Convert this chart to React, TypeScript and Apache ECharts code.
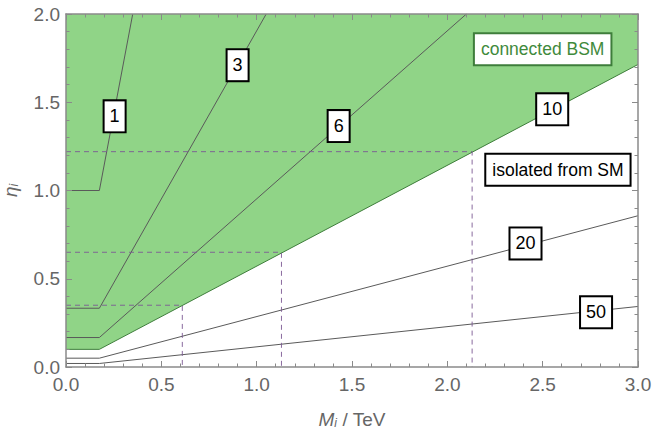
import React, { useEffect, useRef } from "react";
import * as echarts from "echarts";

// contour lines (M in TeV, eta)
const line1 = [[0, 1], [0.175, 1], [0.35, 2]];
const line3 = [[0, 0.333], [0.175, 0.333], [1.05, 2]];
const line6 = [[0, 0.167], [0.175, 0.167], [2.1, 2]];
const line10 = [[0, 0.1], [0.175, 0.1], [3, 1.714]];
const line20 = [[0, 0.05], [0.175, 0.05], [3, 0.857]];
const line50 = [[0, 0.02], [0.175, 0.02], [3, 0.343]];

// dashed guide lines
const dashA = [[0, 0.35], [0.61, 0.35], [0.61, 0]];
const dashB = [[0, 0.65], [1.13, 0.65], [1.13, 0]];
const dashC = [[0, 1.22], [2.13, 1.22], [2.13, 0]];

// labels
const numberLabels = [
  [0.255, 1.42, "1"],
  [0.9, 1.71, "3"],
  [1.43, 1.365, "6"],
  [2.55, 1.46, "10"],
  [2.41, 0.7, "20"],
  [2.78, 0.31, "50"],
];
const isolatedLabel = [[2.58, 1.117, "isolated from SM"]];
const connectedLabel = [[2.5, 1.8, "connected BSM"]];

const FONT = "Liberation Sans, Arial, Helvetica, sans-serif";
const GREEN_FILL = "#90d487";
const GREEN_LINE = "#3e7d3b";
const GRAY_LINE = "#5a5a5a";
const DASH = "#7c5a94";
const FRAME = "#8a8a8a";

function lineSeries(data: number[][], color: string, z = 3) {
  return {
    type: "line",
    data,
    symbol: "none",
    lineStyle: { color, width: 1 },
    z,
    silent: true,
  };
}

function dashSeries(data: number[][]) {
  return {
    type: "line",
    data,
    symbol: "none",
    lineStyle: { color: DASH, width: 1, type: [5, 4], opacity: 0.9 },
    z: 4,
    silent: true,
  };
}

function labelSeries(data: any[], color: string, border: string, fontSize: number, padding: number[]) {
  return {
    type: "scatter",
    data,
    symbolSize: 1,
    itemStyle: { color: "rgba(0,0,0,0)", opacity: 1 },
    z: 20,
    silent: true,
    label: {
      show: true,
      position: "inside",
      formatter: (p: any) => p.value[2],
      fontFamily: FONT,
      fontSize,
      color,
      opacity: 1,
      backgroundColor: "#fff",
      borderColor: border,
      borderWidth: 2,
      padding,
      lineHeight: 19,
    },
  };
}

export default function App() {
  const ref = useRef<HTMLDivElement>(null);
  useEffect(() => {
    if (!ref.current) return;
    const chart = echarts.init(ref.current, undefined, { renderer: "svg" });
    const axisCommon = {
      min: 0,
      z: 15,
      axisLine: { show: true, onZero: false, lineStyle: { color: FRAME, width: 1.5 } },
      axisTick: { show: true, inside: true, length: 6, lineStyle: { color: FRAME, width: 1 } },
      minorTick: { show: true, splitNumber: 5, length: 3.5, lineStyle: { color: FRAME, width: 1 } },
      splitLine: { show: false },
      interval: 0.5,
    };
    const nameRich = {
      it: { fontStyle: "italic", fontSize: 19, fontFamily: FONT, color: "#666", lineHeight: 22, verticalAlign: "bottom" },
      sub: { fontStyle: "italic", fontSize: 12, fontFamily: FONT, color: "#666", lineHeight: 10, verticalAlign: "bottom" },
      n: { fontSize: 19, fontFamily: FONT, color: "#666", lineHeight: 22, verticalAlign: "bottom" },
    };
    chart.setOption({
      animation: false,
      grid: { left: 66, right: 16, top: 14, bottom: 64, containLabel: false, outerBoundsMode: "none" },
      xAxis: [
        {
          ...axisCommon,
          type: "value",
          max: 3,
          position: "bottom",
          axisLabel: {
            color: "#666",
            fontSize: 19,
            fontFamily: FONT,
            margin: 8,
            formatter: (v: number) => v.toFixed(1),
          },
          name: "{it|M}{sub|i}{n| / TeV}",
          nameLocation: "middle",
          nameGap: 40,
          nameTextStyle: { rich: nameRich },
        },
        {
          ...axisCommon,
          type: "value",
          max: 3,
          position: "top",
          axisLabel: { show: false },
        },
      ],
      yAxis: [
        {
          ...axisCommon,
          type: "value",
          max: 2,
          position: "left",
          axisLabel: {
            color: "#666",
            fontSize: 19,
            fontFamily: FONT,
            margin: 6,
            formatter: (v: number) => v.toFixed(1),
          },
          name: "{it|η}{sub|i}",
          nameLocation: "middle",
          nameGap: 46,
          nameTextStyle: { rich: nameRich },
        },
        {
          ...axisCommon,
          type: "value",
          max: 2,
          position: "right",
          axisLabel: { show: false },
        },
      ],
      series: [
        {
          type: "line",
          data: line10,
          symbol: "none",
          lineStyle: { color: GREEN_LINE, width: 1 },
          areaStyle: { color: GREEN_FILL, opacity: 1, origin: "end" },
          z: 2,
          silent: true,
        },
        lineSeries(line1, GRAY_LINE),
        lineSeries(line3, GRAY_LINE),
        lineSeries(line6, GRAY_LINE),
        lineSeries(line20, GRAY_LINE),
        lineSeries(line50, GRAY_LINE),
        dashSeries(dashA),
        dashSeries(dashB),
        dashSeries(dashC),
        labelSeries(numberLabels, "#000", "#000", 18, [6, 5, 5, 5]),
        labelSeries(isolatedLabel, "#000", "#000", 17.5, [6, 6, 5, 6]),
        labelSeries(connectedLabel, "#3f8a3c", GREEN_LINE, 17.5, [6, 6, 5, 6]),
      ],
    });
    return () => chart.dispose();
  }, []);
  return (
    <div
      ref={ref}
      style={{ position: "fixed", left: 0, top: 0, width: 654, height: 431, background: "#fff" }}
    />
  );
}
